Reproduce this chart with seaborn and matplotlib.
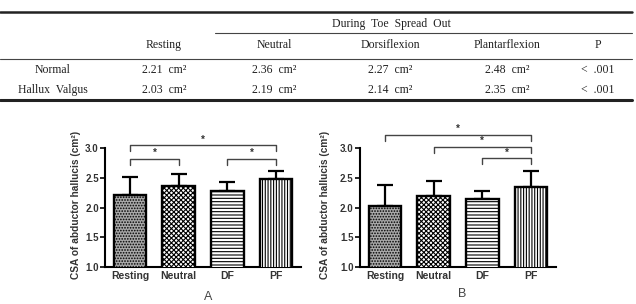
import matplotlib
matplotlib.use('Agg')
import numpy as np
import pandas as pd
import seaborn as sns
import matplotlib.pyplot as plt

# table data
row_names = ['Normal', 'Hallux  Valgus']
col_names = ['Resting', 'Neutral', 'Dorsiflexion', 'Plantarflexion', 'P']
normal_row = ['2.21  cm²', '2.36  cm²', '2.27  cm²', '2.48  cm²', '<  .001']
hv_row = ['2.03  cm²', '2.19  cm²', '2.14  cm²', '2.35  cm²', '<  .001']

# bar chart data
conditions = ['Resting', 'Neutral', 'DF', 'PF']
normal_mean = [2.21, 2.36, 2.27, 2.48]
normal_upper = [2.52, 2.57, 2.43, 2.61]
hv_mean = [2.03, 2.19, 2.14, 2.35]
hv_upper = [2.38, 2.44, 2.28, 2.61]
# significance brackets: (from, to, height)
normal_sig = [(0, 3, 3.05), (0, 1, 2.82), (2, 3, 2.82)]
hv_sig = [(0, 3, 3.22), (1, 3, 3.02), (2, 3, 2.83)]

sns.set_style('white')
plt.rcParams['font.family'] = ['Liberation Sans', 'DejaVu Sans']
plt.rcParams['hatch.linewidth'] = 0.8

fig = plt.figure(figsize=(6.36, 3.04), dpi=100)

# ---- table drawn in pixel coordinates
tab = fig.add_axes([0, 0, 1, 1])
tab.set_xlim(0, 636)
tab.set_ylim(304, 0)
tab.axis('off')
serif = dict(family=['Liberation Serif', 'DejaVu Serif'], fontsize=8.5, color='#222222',
             ha='center', va='center')
tab.plot([0, 632], [12, 12], color='#222222', lw=1.8)
tab.plot([215, 632], [33, 33], color='#444444', lw=0.8)
tab.plot([0, 632], [58.5, 58.5], color='#444444', lw=0.8)
tab.plot([0, 632], [100, 100], color='#222222', lw=2.2)
tab.text(391, 24, 'During  Toe  Spread  Out', **serif)
col_x = [164, 274, 390, 507, 598]
for x, name in zip(col_x, col_names):
    tab.text(x, 45, name, **serif)
for y, name, vals in zip([70, 90], row_names, [normal_row, hv_row]):
    tab.text(53, y, name, **serif)
    for x, v in zip(col_x, vals):
        tab.text(x, y, v, **serif)

# ---- bar charts
hatches = ['......', 'xxxxxxx', '-----', '||||||']
faces = ['#a9a9a9', 'white', 'white', 'white']


def bar_panel(ax, means, upper, sig):
    sns.barplot(x=conditions, y=means, ax=ax, width=0.67, color='white',
                edgecolor='black', linewidth=1.7, errorbar=None)
    for p, h, fc in zip(ax.patches, hatches, faces):
        p.set_hatch(h)
        p.set_facecolor(fc)
        p.set_zorder(3)
    err = np.array(upper) - np.array(means)
    ax.errorbar(np.arange(len(means)), means, yerr=[np.zeros(len(means)), err],
                fmt='none', ecolor='black', elinewidth=1.6, capsize=6, capthick=1.6, zorder=2)
    ax.set_ylim(1.0, 3.0)
    ax.set_yticks([1.0, 1.5, 2.0, 2.5, 3.0])
    ax.set_yticklabels(['1.0', '1.5', '2.0', '2.5', '3.0'])
    for s in ['top', 'right']:
        ax.spines[s].set_visible(False)
    for s in ['left', 'bottom']:
        ax.spines[s].set_linewidth(1.5)
        ax.spines[s].set_color('black')
    ax.tick_params(axis='y', left=True, length=3.5, width=1.4, pad=1,
                   labelsize=7, labelcolor='#333333')
    ax.tick_params(axis='x', bottom=False, length=0, pad=3,
                   labelsize=7.5, labelcolor='#333333')
    for lab in ax.get_xticklabels() + ax.get_yticklabels():
        lab.set_fontweight('bold')
    ax.set_ylabel('CSA of abductor hallucis (cm²)', fontsize=7.3, fontweight='bold',
                  color='#333333')
    for a, b, h in sig:
        ax.plot([a, a, b, b], [h - 0.1, h, h, h - 0.1], color='#444444', lw=1.0,
                clip_on=False)
        ax.text((a + b) / 2, h + 0.01, '*', ha='center', va='bottom', fontsize=7,
                fontweight='bold', color='#333333')


axA = fig.add_axes([105 / 636, 37 / 304, 196 / 636, 119 / 304])
bar_panel(axA, normal_mean, normal_upper, normal_sig)
axA.yaxis.set_label_coords(-0.12, 0.52)

axB = fig.add_axes([360 / 636, 37 / 304, 196 / 636, 119 / 304])
bar_panel(axB, hv_mean, hv_upper, hv_sig)
axB.yaxis.set_label_coords(-0.155, 0.52)

fig.text(208 / 636, 1 - 297 / 304, 'A', ha='center', va='center', fontsize=9, color='#444444')
fig.text(462 / 636, 1 - 294 / 304, 'B', ha='center', va='center', fontsize=9, color='#444444')

fig.savefig('out.png', dpi=100)
